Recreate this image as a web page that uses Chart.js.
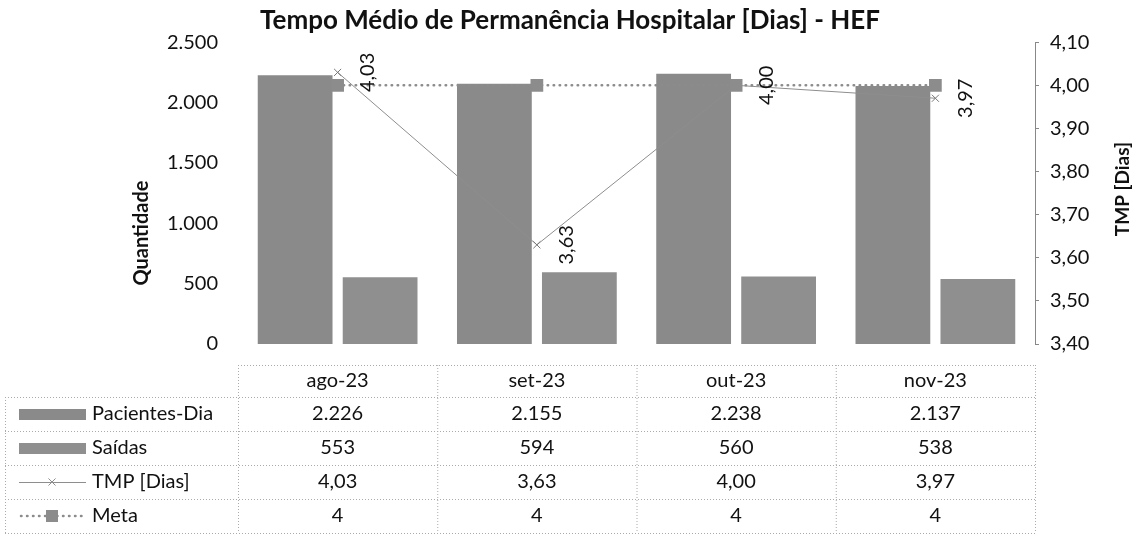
<!DOCTYPE html>
<html>
<head>
<meta charset="utf-8">
<title>TMP - HEF</title>
<script src="https://cdn.jsdelivr.net/npm/chart.js@4.4.0/dist/chart.umd.min.js"></script>
<style>
  html, body { margin: 0; padding: 0; background: #fff; }
</style>
</head>
<body>
<canvas id="grafico" width="1140" height="542"></canvas>
<script>
// dados do grafico
const meses = ['ago-23', 'set-23', 'out-23', 'nov-23']
const pacientesDia = [2226, 2155, 2238, 2137]
const saidas = [553, 594, 560, 538]
const tmpDias = [4.03, 3.63, 4.00, 3.97]
const meta = [4, 4, 4, 4]
const ticksQuantidade = [0, 500, 1000, 1500, 2000, 2500]
const ticksTmp = [3.4, 3.5, 3.6, 3.7, 3.8, 3.9, 4.0, 4.1]

const fmtMil = v => String(v).replace(/\B(?=(\d{3})+(?!\d))/g, '.')
const fmtDec = (v, d) => v.toFixed(d).replace('.', ',')

Chart.defaults.font.family = 'Lato'
Chart.defaults.color = '#111'

const corPacientes = '#8a8a8a'
const corSaidas = '#8f8f8f'
const corTmp = '#8e8e8e'
const corMeta = '#8c8c8c'

// rotulos rotacionados do TMP
const rotulosTmp = {
    id: 'rotulosTmp',
    afterDatasetsDraw(chart) {
        const ctx = chart.ctx
        const pontos = chart.getDatasetMeta(2).data
        ctx.save()
        ctx.font = '20px Lato'
        ctx.fillStyle = '#111'
        ctx.textAlign = 'center'
        ctx.textBaseline = 'middle'
        pontos.forEach((p, i) => {
            ctx.save()
            ctx.translate(p.x + 30, p.y)
            ctx.rotate(-Math.PI / 2)
            ctx.fillText(fmtDec(tmpDias[i], 2), 0, 0)
            ctx.restore()
        })
        ctx.restore()
    }
}

// titulos dos eixos (ambos lidos de baixo para cima)
const titulosEixos = {
    id: 'titulosEixos',
    afterDraw(chart) {
        const ctx = chart.ctx
        const area = chart.chartArea
        ctx.save()
        ctx.font = 'bold 20px Lato'
        ctx.fillStyle = '#111'
        ctx.textAlign = 'center'
        ctx.textBaseline = 'middle'
        ctx.translate(142, 233)
        ctx.rotate(-Math.PI / 2)
        ctx.fillText('Quantidade', 0, 0)
        ctx.restore()

        ctx.save()
        ctx.font = 'bold 19px Lato'
        ctx.fillStyle = '#111'
        ctx.textAlign = 'center'
        ctx.textBaseline = 'middle'
        ctx.translate(1123, (area.top + area.bottom) / 2 - 4)
        ctx.rotate(-Math.PI / 2)
        ctx.fillText('TMP [Dias]', 0, 0)
        ctx.restore()
    }
}

// tabela de dados abaixo do grafico
const tabelaDados = {
    id: 'tabelaDados',
    afterDraw(chart) {
        const ctx = chart.ctx
        const x = chart.scales.x
        const passo = x.width / meses.length
        const esq = x.left
        const dir = x.right
        const inicio = 5
        const topo = chart.chartArea.bottom + 21
        const altCab = 32
        const altLinha = 34
        const linhas = [
            { nome: 'Pacientes-Dia', valores: pacientesDia.map(fmtMil), tipo: 'barra', cor: corPacientes },
            { nome: 'Saídas', valores: saidas.map(fmtMil), tipo: 'barra', cor: corSaidas },
            { nome: 'TMP [Dias]', valores: tmpDias.map(v => fmtDec(v, 2)), tipo: 'tmp', cor: corTmp },
            { nome: 'Meta', valores: meta.map(v => String(v)), tipo: 'meta', cor: corMeta }
        ]

        ctx.save()
        ctx.strokeStyle = '#ababab'
        ctx.lineWidth = 1
        ctx.setLineDash([1, 2])

        const hLinha = (x1, x2, y) => {
            ctx.beginPath()
            ctx.moveTo(x1, y + 0.5)
            ctx.lineTo(x2, y + 0.5)
            ctx.stroke()
        }
        const vLinha = (xx, y1, y2) => {
            ctx.beginPath()
            ctx.moveTo(xx + 0.5, y1)
            ctx.lineTo(xx + 0.5, y2)
            ctx.stroke()
        }

        const fundo = topo + altCab + altLinha * linhas.length
        hLinha(esq, dir, topo)
        for (let i = 0; i <= linhas.length; i++) {
            hLinha(inicio, dir, topo + altCab + altLinha * i)
        }
        for (let i = 0; i <= meses.length; i++) {
            vLinha(esq + passo * i, topo, fundo)
        }
        vLinha(inicio, topo + altCab, fundo)
        ctx.setLineDash([])

        // cabecalho
        ctx.font = '20px Lato'
        ctx.fillStyle = '#111'
        ctx.textAlign = 'center'
        ctx.textBaseline = 'middle'
        meses.forEach((m, i) => {
            ctx.fillText(m, x.getPixelForValue(i), topo + altCab / 2)
        })

        linhas.forEach((l, r) => {
            const yc = topo + altCab + altLinha * r + altLinha / 2
            // chave da legenda
            if (l.tipo === 'barra') {
                ctx.fillStyle = l.cor
                ctx.fillRect(19, yc - 5, 67, 11)
            } else if (l.tipo === 'tmp') {
                ctx.strokeStyle = l.cor
                ctx.lineWidth = 1
                ctx.beginPath()
                ctx.moveTo(19, yc + 0.5)
                ctx.lineTo(86, yc + 0.5)
                ctx.stroke()
                Chart.helpers.drawPoint(ctx, { pointStyle: 'crossRot', radius: 5, borderWidth: 1 }, 52, yc)
            } else {
                ctx.strokeStyle = l.cor
                ctx.lineWidth = 2.5
                ctx.lineCap = 'round'
                ctx.setLineDash([0.5, 5.5])
                ctx.beginPath()
                ctx.moveTo(21, yc)
                ctx.lineTo(86, yc)
                ctx.stroke()
                ctx.setLineDash([])
                ctx.fillStyle = l.cor
                ctx.fillRect(46, yc - 6, 12, 12)
            }
            ctx.fillStyle = '#111'
            ctx.textAlign = 'left'
            ctx.fillText(l.nome, 92, yc)
            ctx.textAlign = 'center'
            l.valores.forEach((v, i) => {
                ctx.fillText(v, x.getPixelForValue(i), yc)
            })
        })
        ctx.restore()
    }
}

new Chart(document.getElementById('grafico'), {
    data: {
        labels: meses,
        datasets: [{
            type: 'bar',
            label: 'Pacientes-Dia',
            data: pacientesDia,
            yAxisID: 'y',
            backgroundColor: corPacientes,
            categoryPercentage: 0.853,
            barPercentage: 0.88,
            order: 3
        }, {
            type: 'bar',
            label: 'Saídas',
            data: saidas,
            yAxisID: 'y',
            backgroundColor: corSaidas,
            categoryPercentage: 0.853,
            barPercentage: 0.88,
            order: 3
        }, {
            type: 'line',
            label: 'TMP [Dias]',
            data: tmpDias,
            yAxisID: 'y1',
            borderColor: corTmp,
            borderWidth: 1,
            pointStyle: 'crossRot',
            pointRadius: 5,
            pointBorderColor: '#777',
            pointBorderWidth: 1,
            order: 1
        }, {
            type: 'line',
            label: 'Meta',
            data: meta,
            yAxisID: 'y1',
            borderColor: corMeta,
            borderWidth: 2.5,
            borderDash: [0.5, 5.5],
            borderCapStyle: 'round',
            pointStyle: 'rect',
            pointRadius: 9,
            pointBackgroundColor: corMeta,
            pointBorderWidth: 0,
            order: 0
        }]
    },
    options: {
        responsive: false,
        animation: false,
        layout: {
            padding: { left: 0, right: 0, top: 0, bottom: 198 }
        },
        plugins: {
            legend: { display: false },
            tooltip: { enabled: false },
            title: {
                display: true,
                text: 'Tempo Médio de Permanência Hospitalar [Dias] - HEF',
                color: '#111',
                font: { size: 26, weight: 'bold' },
                padding: { top: 5, bottom: 6 }
            }
        },
        scales: {
            x: {
                display: false,
                offset: true
            },
            y: {
                position: 'left',
                min: 0,
                max: 2500,
                afterFit: s => { s.width = 238 },
                afterBuildTicks: s => { s.ticks = ticksQuantidade.map(v => ({ value: v })) },
                grid: { display: false, drawTicks: false },
                border: { display: false },
                ticks: {
                    padding: 20,
                    font: { size: 20 },
                    color: '#111',
                    callback: v => fmtMil(v)
                }
            },
            y1: {
                position: 'right',
                min: 3.4,
                max: 4.1,
                afterFit: s => { s.width = 105 },
                afterBuildTicks: s => { s.ticks = ticksTmp.map(v => ({ value: v })) },
                grid: { display: true, drawOnChartArea: false, drawTicks: true, tickLength: 4, color: '#888' },
                border: { display: true, color: '#888', dash: [1, 1] },
                ticks: {
                    padding: 11,
                    font: { size: 20 },
                    color: '#111',
                    callback: v => fmtDec(v, 2)
                }
            }
        }
    },
    plugins: [rotulosTmp, titulosEixos, tabelaDados]
})
</script>
</body>
</html>
